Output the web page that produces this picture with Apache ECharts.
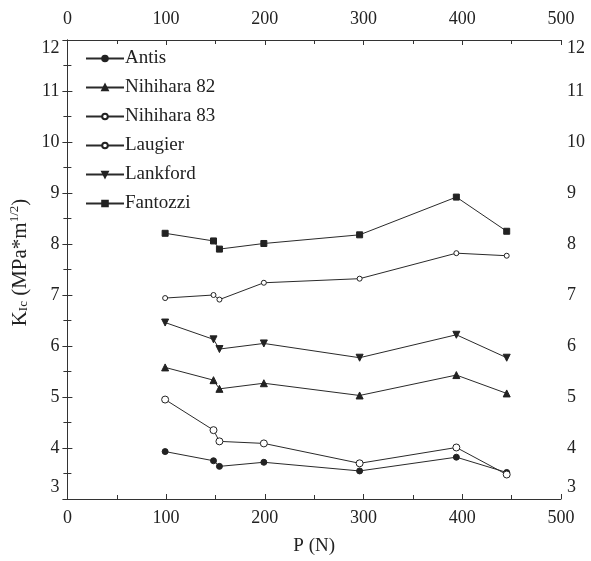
<!DOCTYPE html>
<html>
<head>
<meta charset="utf-8">
<script src="https://cdn.jsdelivr.net/npm/echarts@6/dist/echarts.min.js"></script>
<style>html,body{margin:0;padding:0;background:#fff}#c{width:591px;height:561px}</style>
</head>
<body>
<div id="c"></div>
<script>
const P = [99, 148, 154, 199, 296, 394, 445];
const antis = [3.93, 3.75, 3.64, 3.72, 3.55, 3.82, 3.52];
const nihihara82 = [5.58, 5.33, 5.16, 5.27, 5.03, 5.43, 5.07];
const nihihara83 = [6.94, 7.00, 6.91, 7.24, 7.32, 7.82, 7.77];
const laugier = [4.95, 4.35, 4.13, 4.09, 3.70, 4.01, 3.48];
const lankford = [6.46, 6.13, 5.94, 6.05, 5.77, 6.22, 5.77];
const fantozzi = [8.21, 8.06, 7.90, 8.01, 8.18, 8.92, 8.25];
const xTicks = [0, 100, 200, 300, 400, 500];
const yTicks = [3, 4, 5, 6, 7, 8, 9, 10, 11, 12];

const FONT = 'Liberation Serif';
const INK = '#222';
function pts(v) { return P.map((p, i) => [p, v[i]]); }
function mk(name, data, symbol, size, filled, rot) {
  return {
    name, type: 'line', data: pts(data), symbol, symbolSize: size, symbolRotate: rot || 0,
    showSymbol: true, animation: false,
    lineStyle: { color: '#2a2a2a', width: 1 },
    itemStyle: { color: filled ? INK : '#fff', borderColor: INK, borderWidth: 1 }
  };
}
function yLab(v) {
  if (!yTicks.includes(v)) return '';
  if (v === 3) return '{lo|3}';
  if (v === 12) return '{hi|12}';
  return '{n|' + v + '}';
}
const labRich = {
  n: { fontFamily: FONT, fontSize: 18, color: INK },
  lo: { fontFamily: FONT, fontSize: 18, color: INK, padding: [0, 0, 24, 0] },
  hi: { fontFamily: FONT, fontSize: 18, color: INK, padding: [16, 0, 0, 0] }
};
const axisCommon = {
  axisLine: { show: true, lineStyle: { color: '#333', width: 1 } },
  axisTick: { show: true, inside: true, length: 5, lineStyle: { color: '#333' } },
  minorTick: { show: true, splitNumber: 2, length: 4, lineStyle: { color: '#333' } },
  splitLine: { show: false },
  axisLabel: { fontFamily: FONT, fontSize: 18, color: INK }
};
const chart = echarts.init(document.getElementById('c'));
chart.setOption({
  animation: false,
  backgroundColor: '#fff',
  grid: { left: 62, right: 30, top: 40, bottom: 60 },
  legend: {
    orient: 'vertical', left: 80, top: 44, itemWidth: 38, itemHeight: 7, itemGap: 10,
    textStyle: { fontFamily: FONT, fontSize: 19, color: INK, padding: [0, 0, 0, -4] },
    data: ['Antis', 'Nihihara 82', 'Nihihara 83', 'Laugier', 'Lankford', 'Fantozzi']
  },
  xAxis: [
    Object.assign({}, axisCommon, {
      type: 'value', position: 'bottom', min: 0, max: 500, interval: 100,
      name: 'P (N)', nameLocation: 'middle', nameGap: 38,
      nameTextStyle: { fontFamily: FONT, fontSize: 19, color: INK },
      axisLabel: { fontFamily: FONT, fontSize: 18, color: INK, margin: 10 }
    }),
    Object.assign({}, axisCommon, {
      type: 'value', position: 'top', min: 0, max: 500, interval: 100,
      axisLabel: { fontFamily: FONT, fontSize: 18, color: INK, margin: 12 }
    })
  ],
  yAxis: [
    Object.assign({}, axisCommon, {
      type: 'value', position: 'left', min: 3, max: 12, interval: 1,
      name: '{k|K}{s|Ic}{t| (MPa*m}{u|1/2}{t|)}', nameLocation: 'middle', nameGap: 26, nameRotate: 90,
      nameTextStyle: { padding: [0, 0, 0, 14], rich: {
        k: { fontFamily: FONT, fontSize: 21, color: INK },
        s: { fontFamily: FONT, fontSize: 13, color: INK, padding: [8, 0, 0, 0] },
        t: { fontFamily: FONT, fontSize: 21, color: INK },
        u: { fontFamily: FONT, fontSize: 13, color: INK, padding: [0, 0, 11, 0] }
      } },
      axisLabel: { formatter: yLab, rich: labRich, margin: 8 }
    }),
    Object.assign({}, axisCommon, {
      type: 'value', position: 'right', min: 3, max: 12, interval: 1,
      axisLabel: { formatter: yLab, rich: labRich, margin: 6 }
    })
  ],
  series: [
    mk('Antis', antis, 'circle', 6, true),
    mk('Nihihara 82', nihihara82, 'triangle', 7, true),
    mk('Nihihara 83', nihihara83, 'circle', 5, false),
    mk('Laugier', laugier, 'circle', 7, false),
    mk('Lankford', lankford, 'triangle', 7, true, 180),
    mk('Fantozzi', fantozzi, 'rect', 6, true)
  ]
});
</script>
</body>
</html>
